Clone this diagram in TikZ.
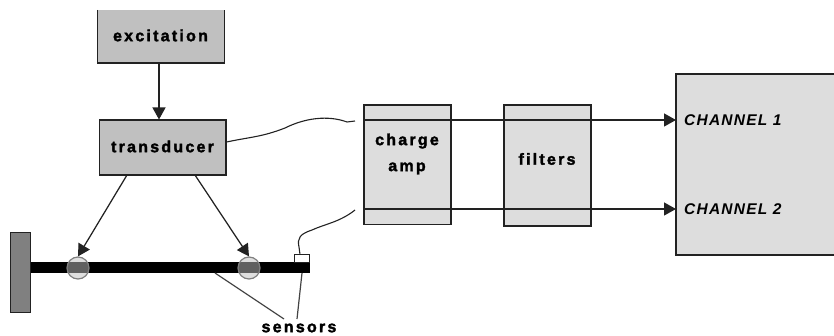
\documentclass[tikz,border=0pt]{standalone}
\usepackage{fontspec}
\setmainfont{Liberation Sans}
\newfontfamily\lblfont[LetterSpace=14,FakeBold=2]{Liberation Sans Bold}
\newfontfamily\chanfont[LetterSpace=8]{Liberation Sans Bold Italic}
\usetikzlibrary{arrows.meta}
\definecolor{darkbox}{HTML}{C0C0C0}
\definecolor{lightbox}{HTML}{DDDDDD}
\definecolor{wallgray}{HTML}{808080}
\definecolor{inkline}{HTML}{222222}
\tikzset{
  x=1pt,y=-1pt,
  blockline/.style={draw=inkline,line width=1.25pt},
  lbl/.style={font=\lblfont\fontsize{16}{26}\selectfont,text=black,inner sep=0pt,align=center},
  chan/.style={font=\chanfont\fontsize{15.5}{18}\selectfont,text=black,inner sep=0pt,anchor=west},
  arr/.style={draw=inkline,line width=1.25pt,-{Triangle[length=12pt,width=13pt]}},
  wire/.style={draw=inkline,line width=1.1pt},
  lead/.style={draw=inkline!85,line width=1.2pt},
  boxnode/.style={rectangle,minimum width=0pt,inner sep=0pt,blockline},
}
\begin{document}
\begin{tikzpicture}
\useasboundingbox (0,0) rectangle (834,336);
% blocks
\path[fill=darkbox] (97.5,10) rectangle (224.5,63);
\draw[blockline] (97.5,10) -- (97.5,63) -- (224.5,63) -- (224.5,10);
\coordinate (excb) at (159,63);
\node[lbl] (exc) at (160.5,35.5) {excitation};
\node[boxnode,fill=darkbox,minimum width=126.5pt,minimum height=55pt] (tr) at (162.75,147.5) {};
\node[lbl] (trl) at (162.5,146.5) {transducer};
\node[boxnode,fill=lightbox,minimum width=87pt,minimum height=119.5pt] (amp) at (407.5,164.75) {};
\node[lbl] (ampl) at (407,154) {charge\\amp};
\node[boxnode,fill=lightbox,minimum width=87pt,minimum height=121pt] (fil) at (547.5,165.5) {};
\node[lbl] (fill) at (547,159) {filters};
\path[fill=lightbox] (676,74) rectangle (834,255);
\draw[blockline] (834,74) -- (676,74) -- (676,255) -- (834,255);
\coordinate (ch1) at (676,120);
\coordinate (ch2) at (676,209);
\coordinate (ampa) at (364,120);
\coordinate (ampb) at (364,209);
\node[chan] (c1) at (684,120.5) {CHANNEL 1};
\node[chan] (c2) at (684,209.5) {CHANNEL 2};
\draw[arr] (ampa) -- (ch1);
\draw[arr] (ampb) -- (ch2);
% beam
\node[rectangle,draw=none,fill=black,inner sep=0pt,minimum width=280pt,minimum height=11pt] (beam) at (170,268) {};
\node[rectangle,draw=inkline,line width=1pt,fill=wallgray,inner sep=0pt,minimum width=19.5pt,minimum height=79pt] (wall) at (20.25,272.5) {};
\node[circle,draw=gray,line width=1.2pt,fill=darkbox,fill opacity=.5,inner sep=0pt,minimum size=22pt] (s1) at (78,268) {};
\node[circle,draw=gray,line width=1.2pt,fill=darkbox,fill opacity=.5,inner sep=0pt,minimum size=22pt] (s2) at (249,268) {};
\node[rectangle,draw=inkline,line width=1pt,fill=white,inner sep=0pt,minimum width=15pt,minimum height=8pt] (s3) at (301.5,259) {};
% arrows
\draw[arr] (excb) -- (159,119.5);
\coordinate (trl1) at (127,175);
\coordinate (trr1) at (195,175);
\draw[arr] (trl1) -- (s1.north);
\draw[arr] (trr1) -- (s2.north);
% sensors
\node[lbl] (sens) at (299,328) {sensors};
\coordinate (b1) at (215,273);
\coordinate (b2) at (302,273);
\draw[lead] (b1) -- (284,319);
\draw[lead] (b2) -- (297,319);
% wires
\coordinate (w1) at (355,121);
\coordinate (w2) at (355,210);
\draw[wire] (tr.east |- 0,142) .. controls (250,137) and (262,137) .. (285,128) .. controls (305,118) and (328,115) .. (347,122) -- (w1);
\draw[wire] (s3.north -| 300,0) -- (299,247) .. controls (297,238) and (300,234) .. (312,230) .. controls (325,224) and (340,222) .. (w2);
\end{tikzpicture}
\end{document}
